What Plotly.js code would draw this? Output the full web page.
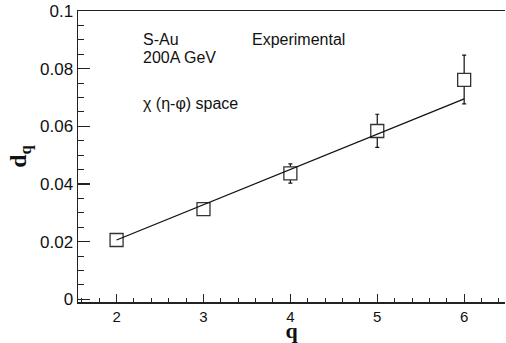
<!DOCTYPE html>
<html>
<head>
<meta charset="utf-8">
<script src="https://cdn.plot.ly/plotly-3.0.1.min.js"></script>
<style>html,body{margin:0;padding:0;background:#fff;}#chart{width:506px;height:343px;}</style>
</head>
<body>
<div id="chart"></div>
<script>
const q = [2, 3, 4, 5, 6];
const dq = [0.0206, 0.0313, 0.0437, 0.0584, 0.0761];
const dqErrPlus = [0.0, 0.0, 0.0033, 0.0058, 0.0086];
const dqErrMinus = [0.0, 0.0, 0.0034, 0.0057, 0.0083];
const fitQ = [2, 6];
const fitDq = [0.0206, 0.0695];
const xTickLabels = ['2', '3', '4', '5', '6'];
const yTickVals = [0, 0.02, 0.04, 0.06, 0.08, 0.1];
const yTickLabels = ['0', '0.02', '0.04', '0.06', '0.08', '0.1'];

const dataTraces = [
  {
    x: q, y: dq, type: 'scatter', mode: 'markers',
    marker: {symbol: 'square', size: 13, color: '#ffffff', line: {color: '#333333', width: 1.3}},
    error_y: {type: 'data', symmetric: false, array: dqErrPlus, arrayminus: dqErrMinus,
              color: '#111111', thickness: 1.2, width: 2},
    showlegend: false, hoverinfo: 'none'
  },
  {
    x: fitQ, y: fitDq, type: 'scatter', mode: 'lines',
    line: {color: '#111111', width: 1.3},
    showlegend: false, hoverinfo: 'none'
  }
];

const txtFont = {family: 'Liberation Sans, Arial, sans-serif', size: 16, color: '#111'};
const layout = {
  width: 506, height: 343,
  margin: {l: 78, r: 1, t: 11, b: 41, pad: 0},
  paper_bgcolor: '#fff', plot_bgcolor: '#fff',
  showlegend: false,
  xaxis: {
    range: [1.556, 6.47], tickmode: 'array', tickvals: q, ticktext: xTickLabels,
    ticks: 'inside', ticklen: 8, tickwidth: 1.2, tickcolor: '#222',
    minor: {dtick: 0.2, tick0: 0, ticks: 'inside', ticklen: 4, tickwidth: 1, tickcolor: '#222'},
    showgrid: false, zeroline: false, showline: true, linecolor: '#222', linewidth: 1.5, mirror: true,
    tickfont: {family: 'Liberation Sans, Arial, sans-serif', size: 15, color: '#111'},
    title: {text: '<b>q</b>', font: {family: 'Liberation Serif, Times New Roman, serif', size: 22, color: '#111'}, standoff: 1}
  },
  yaxis: {
    range: [-0.0009, 0.1], tickmode: 'array', tickvals: yTickVals, ticktext: yTickLabels,
    ticks: 'inside', ticklen: 12, tickwidth: 1.2, tickcolor: '#222',
    minor: {dtick: 0.005, tick0: 0, ticks: 'inside', ticklen: 6, tickwidth: 1, tickcolor: '#222'},
    showgrid: false, zeroline: false, showline: true, linecolor: '#222', linewidth: 1.5,
    tickfont: {family: 'Liberation Sans, Arial, sans-serif', size: 17, color: '#111'},
    title: {text: '<b>d<sub>q</sub></b>', font: {family: 'Liberation Serif, Times New Roman, serif', size: 24, color: '#111'}, standoff: 6}
  },
  annotations: [
    {xref: 'paper', yref: 'paper', x: (141-78)/427, y: (302-40)/291, text: 'S-Au', showarrow: false, xanchor: 'left', yanchor: 'middle', font: txtFont},
    {xref: 'paper', yref: 'paper', x: (141-78)/427, y: (302-58)/291, text: '200A GeV', showarrow: false, xanchor: 'left', yanchor: 'middle', font: txtFont},
    {xref: 'paper', yref: 'paper', x: (250-78)/427, y: (302-40)/291, text: 'Experimental', showarrow: false, xanchor: 'left', yanchor: 'middle', font: txtFont},
    {xref: 'paper', yref: 'paper', x: (141-78)/427, y: (302-103)/291, text: 'χ (η-φ) space', showarrow: false, xanchor: 'left', yanchor: 'middle', font: txtFont}
  ]
};

Plotly.newPlot('chart', dataTraces, layout, {staticPlot: true, displayModeBar: false});
</script>
</body>
</html>
